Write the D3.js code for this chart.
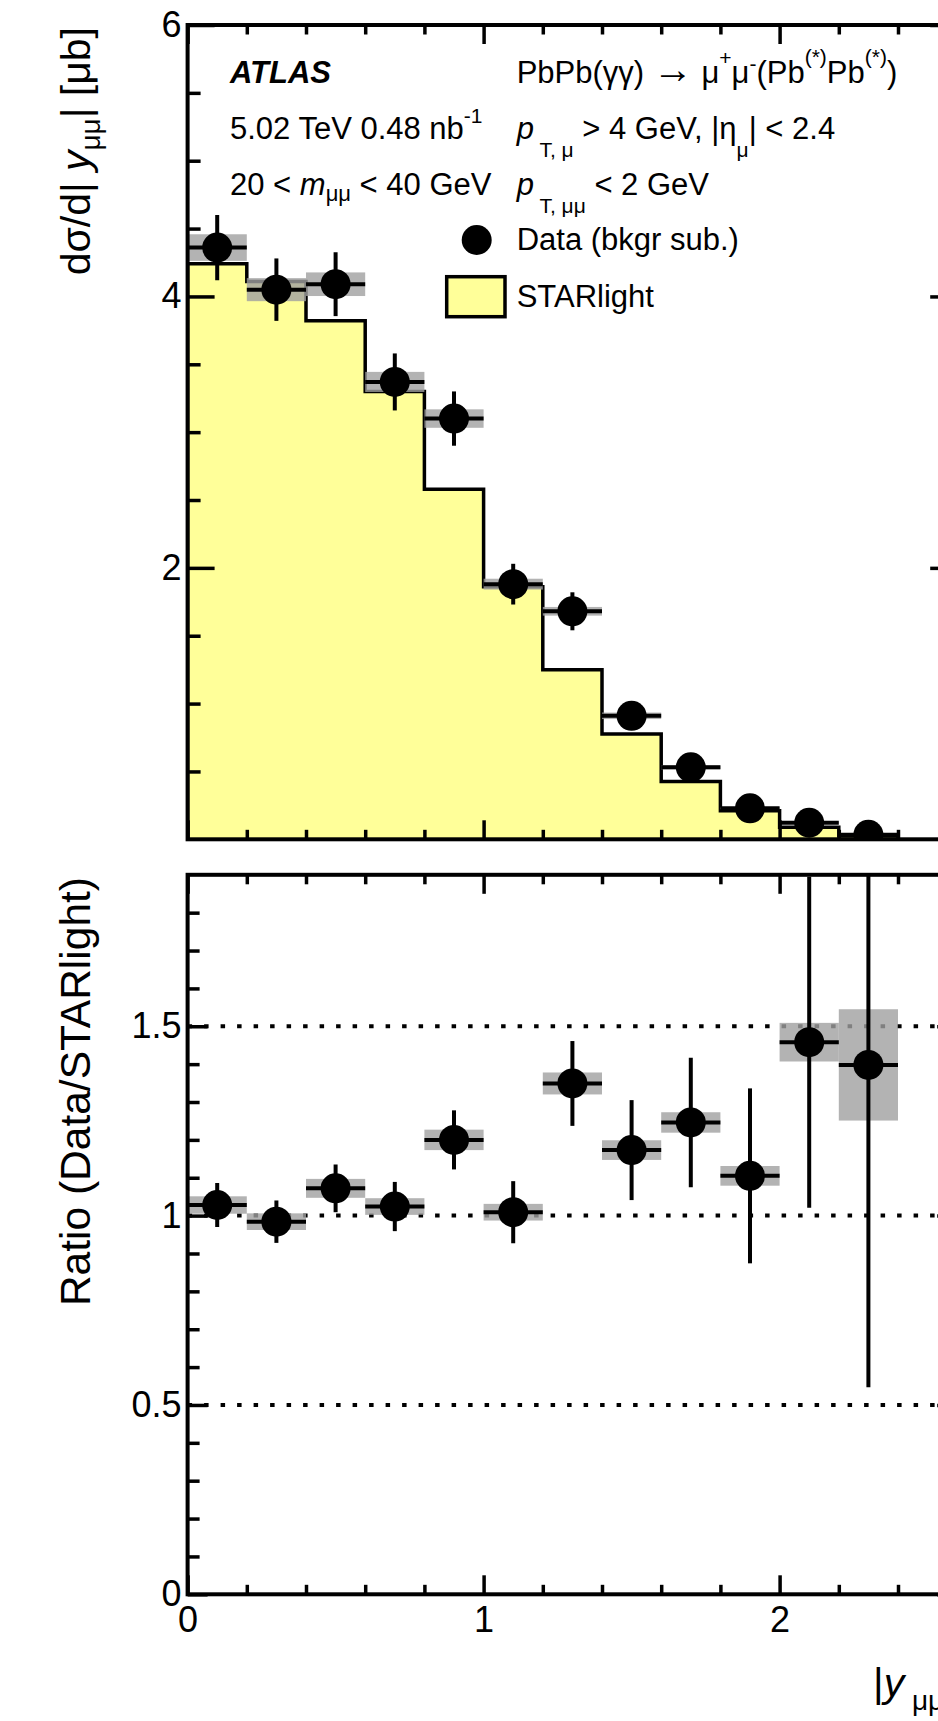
<!DOCTYPE html>
<html>
<head>
<meta charset="utf-8">
<script src="https://cdn.jsdelivr.net/npm/d3@7"></script>
<style>
  html, body { margin: 0; padding: 0; background: #fff; overflow: hidden; }
  svg { display: block; }
  text { font-family: "Liberation Sans", Arial, Helvetica, sans-serif; fill: #000; white-space: pre; }
</style>
</head>
<body>
<svg id="chart" width="938" height="1721"></svg>
<script>
// |y_mumu| bin edges
const binEdges = [0, 0.2, 0.4, 0.6, 0.8, 1.0, 1.2, 1.4, 1.6, 1.8, 2.0, 2.2, 2.4];

// Measured dσ/d|y_mumu| [μb], background subtracted
const xsData = [4.36, 4.05, 4.09, 3.37, 3.10, 1.88, 1.68, 0.91, 0.53, 0.228, 0.122, 0.033];
const xsStat = [0.24, 0.23, 0.235, 0.21, 0.20, 0.15, 0.14, 0.10, 0.085, 0.05, 0.04, 0.02];
const xsSyst = [0.098, 0.085, 0.087, 0.074, 0.068, 0.04, 0.032, 0.024, 0.015, 0.007, 0.005, 0.003];

// STARlight prediction
const xsStarlight = [4.24, 4.11, 3.82, 3.30, 2.58, 1.86, 1.25, 0.775, 0.425, 0.21, 0.088, 0.024];

// Data / STARlight
const ratio     = [1.028, 0.984, 1.072, 1.024, 1.20, 1.009, 1.349, 1.173, 1.246, 1.105, 1.458, 1.398];
const ratioStat = [0.058, 0.056, 0.063, 0.065, 0.078, 0.082, 0.112, 0.132, 0.171, 0.231, 0.437, 0.851];
const ratioSyst = [0.023, 0.022, 0.025, 0.022, 0.027, 0.022, 0.029, 0.026, 0.027, 0.026, 0.051, 0.147];

// Axis ticks
const xMajorTicks = [0, 1, 2];
const xMinorTicks = [0.2, 0.4, 0.6, 0.8, 1.2, 1.4, 1.6, 1.8, 2.2, 2.4];
const topMajorTicks = [2, 4, 6];
const topMinorTicks = [0.5, 1, 1.5, 2.5, 3, 3.5, 4.5, 5, 5.5];
const ratioMajorTicks = [0, 0.5, 1, 1.5];
const ratioMinorTicks = [0.1, 0.2, 0.3, 0.4, 0.6, 0.7, 0.8, 0.9, 1.1, 1.2, 1.3, 1.4, 1.6, 1.7, 1.8];
const ratioRefLines = [0.5, 1, 1.5];

const YELLOW = "#ffff99";
const SYST_FILL = "#a0a0a0";
const LABEL_SIZE = 36;
const TEXT_SIZE = 31;

const svg = d3.select("#chart");

const bins = xsData.map((d, i) => ({
  lo: binEdges[i], hi: binEdges[i + 1], mid: (binEdges[i] + binEdges[i + 1]) / 2,
  xs: d, xsStat: xsStat[i], xsSyst: xsSyst[i], sl: xsStarlight[i],
  r: ratio[i], rStat: ratioStat[i], rSyst: ratioSyst[i]
}));

const x = d3.scaleLinear().domain([0, 2.6]).range([187.6, 957.2]);
const yTop = d3.scaleLinear().domain([0, 6]).range([839.3, 25]);
const yRat = d3.scaleLinear().domain([0, 1.9]).range([1594.3, 874.8]);

// Rich text: parts are {t, it, b, sub, sup, fs, dx}
function rich(parent, px, py, parts, size, attrs = {}) {
  const t = parent.append("text").attr("x", px).attr("y", py).attr("font-size", size);
  Object.entries(attrs).forEach(([k, v]) => t.attr(k, v));
  let offset = 0;
  parts.forEach(p => {
    const ts = t.append("tspan").text(p.t);
    let target = 0;
    if (p.sub) target = p.sub;
    if (p.sup) target = -p.sup;
    const dy = target - offset;
    if (dy !== 0) ts.attr("dy", dy);
    offset = target;
    if (p.dx) ts.attr("dx", p.dx);
    ts.attr("font-size", p.fs || size);
    if (p.it) ts.attr("font-style", "italic");
    if (p.b) ts.attr("font-weight", "bold");
  });
  return t;
}

function styleAxis(g, labelSize) {
  g.select(".domain").remove();
  g.selectAll(".tick line").attr("stroke", "#000").attr("stroke-width", 3.5);
  g.selectAll(".tick text").attr("font-size", labelSize).attr("fill", "#000")
    .attr("font-family", '"Liberation Sans", Arial, Helvetica, sans-serif');
}

function drawAxes(yScale, yMajor, yMinor, yMajorLen, yMinorLen, showX) {
  const [top, bottom] = [yScale.range()[1], yScale.range()[0]];
  const [left, right] = x.range();
  // left y axis
  svg.append("g").attr("transform", `translate(${left},0)`)
    .call(d3.axisLeft(yScale).tickValues(yMajor).tickSize(-yMajorLen).tickPadding(6).tickFormat(d3.format("")))
    .call(g => styleAxis(g, LABEL_SIZE));
  svg.append("g").attr("transform", `translate(${left},0)`)
    .call(d3.axisLeft(yScale).tickValues(yMinor).tickSize(-yMinorLen).tickFormat(""))
    .call(g => styleAxis(g, LABEL_SIZE));
  // mirrored right y axis
  svg.append("g").attr("transform", `translate(${right},0)`)
    .call(d3.axisRight(yScale).tickValues(yMajor).tickSize(-yMajorLen).tickFormat(""))
    .call(g => styleAxis(g, LABEL_SIZE));
  svg.append("g").attr("transform", `translate(${right},0)`)
    .call(d3.axisRight(yScale).tickValues(yMinor).tickSize(-yMinorLen).tickFormat(""))
    .call(g => styleAxis(g, LABEL_SIZE));
  // bottom x axis
  svg.append("g").attr("transform", `translate(0,${bottom})`)
    .call(d3.axisBottom(x).tickValues(xMajorTicks).tickSize(-19).tickPadding(12)
      .tickFormat(showX ? d3.format("") : ""))
    .call(g => styleAxis(g, LABEL_SIZE));
  svg.append("g").attr("transform", `translate(0,${bottom})`)
    .call(d3.axisBottom(x).tickValues(xMinorTicks).tickSize(-9.5).tickFormat(""))
    .call(g => styleAxis(g, LABEL_SIZE));
  // top x axis
  svg.append("g").attr("transform", `translate(0,${top})`)
    .call(d3.axisTop(x).tickValues(xMajorTicks).tickSize(-19).tickFormat(""))
    .call(g => styleAxis(g, LABEL_SIZE));
  svg.append("g").attr("transform", `translate(0,${top})`)
    .call(d3.axisTop(x).tickValues(xMinorTicks).tickSize(-9.5).tickFormat(""))
    .call(g => styleAxis(g, LABEL_SIZE));
  // frame
  svg.append("rect").attr("x", left).attr("y", top)
    .attr("width", right - left).attr("height", bottom - top)
    .attr("fill", "none").attr("stroke", "#000").attr("stroke-width", 4);
}

function clipFor(id, yScale) {
  const [left, right] = x.range();
  svg.append("clipPath").attr("id", id).append("rect")
    .attr("x", left).attr("y", yScale.range()[1])
    .attr("width", right - left).attr("height", yScale.range()[0] - yScale.range()[1]);
  return svg.append("g").attr("clip-path", `url(#${id})`);
}

function drawPoints(g, yScale, val, stat, syst) {
  // systematic boxes
  g.append("g").selectAll("rect").data(bins).join("rect")
    .attr("x", d => x(d.lo)).attr("width", d => x(d.hi) - x(d.lo))
    .attr("y", d => yScale(d[val] + d[syst]))
    .attr("height", d => yScale(d[val] - d[syst]) - yScale(d[val] + d[syst]))
    .attr("fill", SYST_FILL).attr("fill-opacity", 0.8);
  // horizontal bars (bin width)
  g.append("g").selectAll("line").data(bins).join("line")
    .attr("x1", d => x(d.lo)).attr("x2", d => x(d.hi))
    .attr("y1", d => yScale(d[val])).attr("y2", d => yScale(d[val]))
    .attr("stroke", "#000").attr("stroke-width", 4);
  // statistical error bars
  g.append("g").selectAll("line").data(bins).join("line")
    .attr("x1", d => x(d.mid)).attr("x2", d => x(d.mid))
    .attr("y1", d => yScale(d[val] - d[stat])).attr("y2", d => yScale(d[val] + d[stat]))
    .attr("stroke", "#000").attr("stroke-width", 4);
  // markers
  g.append("g").selectAll("circle").data(bins).join("circle")
    .attr("cx", d => x(d.mid)).attr("cy", d => yScale(d[val])).attr("r", 15)
    .attr("fill", "#000");
}

// ---------- upper panel: cross section ----------
const gTop = clipFor("clip-top", yTop);
const stepPts = [[0, 0]].concat(bins.map(d => [d.lo, d.sl]),
  [[binEdges[binEdges.length - 1], xsStarlight[xsStarlight.length - 1]], [binEdges[binEdges.length - 1], 0]]);
gTop.append("path").datum(stepPts)
  .attr("d", d3.area().curve(d3.curveStepAfter).x(d => x(d[0])).y0(yTop(0)).y1(d => yTop(d[1])))
  .attr("fill", YELLOW);
gTop.append("path").datum(stepPts)
  .attr("d", d3.line().curve(d3.curveStepAfter).x(d => x(d[0])).y(d => yTop(d[1])))
  .attr("fill", "none").attr("stroke", "#000").attr("stroke-width", 3.5);
drawPoints(gTop, yTop, "xs", "xsStat", "xsSyst");
drawAxes(yTop, topMajorTicks, topMinorTicks, 27, 13, false);

// ---------- lower panel: ratio ----------
const gRat = clipFor("clip-rat", yRat);
gRat.append("g").selectAll("line").data(ratioRefLines).join("line")
  .attr("x1", x.range()[0]).attr("x2", x.range()[1])
  .attr("y1", d => yRat(d)).attr("y2", d => yRat(d))
  .attr("stroke", "#000").attr("stroke-width", 4).attr("stroke-dasharray", "4.5 12");
drawPoints(gRat, yRat, "r", "rStat", "rSyst");
drawAxes(yRat, ratioMajorTicks, ratioMinorTicks, 20, 12, true);

// ---------- axis titles ----------
rich(svg, 0, 0, [
  { t: "dσ/d| " }, { t: "y", it: true }, { t: "μμ", sub: 10, fs: 28 }, { t: "| [μb]" }
], 41, { transform: "translate(90,27) rotate(-90)", "text-anchor": "end" });

rich(svg, 0, 0, [{ t: "Ratio (Data/STARlight)" }], 42.5,
  { transform: "translate(90,877) rotate(-90)", "text-anchor": "end" });

rich(svg, 873, 1697, [
  { t: "|" }, { t: "y", it: true }, { t: " μμ", sub: 13, fs: 28 }, { t: "|" }
], 41);

// ---------- labels ----------
rich(svg, 230, 83, [{ t: "ATLAS", it: true, b: true }], TEXT_SIZE);
rich(svg, 230, 139, [{ t: "5.02 TeV 0.48 nb" }, { t: "-1", sup: 16, fs: 21 }], TEXT_SIZE);
rich(svg, 230, 195, [
  { t: "20 < " }, { t: "m", it: true }, { t: "μμ", sub: 6, fs: 22 }, { t: " < 40 GeV" }
], TEXT_SIZE);

rich(svg, 516.7, 83, [
  { t: "PbPb(γγ) " }, { t: "→", fs: 40 }, { t: " μ" }, { t: "+", sup: 18, fs: 21 }, { t: "μ" },
  { t: "-", sup: 12, fs: 21 },
  { t: "(Pb" }, { t: "(*)", sup: 19, fs: 21 }, { t: "Pb" }, { t: "(*)", sup: 19, fs: 21 }, { t: ")" }
], TEXT_SIZE);
rich(svg, 516.7, 139, [
  { t: "p", it: true }, { t: " T, μ", sub: 18, fs: 21 }, { t: " > 4 GeV, |η" },
  { t: "μ", sub: 18, fs: 21 }, { t: "| < 2.4" }
], TEXT_SIZE);
rich(svg, 516.7, 195, [
  { t: "p", it: true }, { t: " T, μμ", sub: 18, fs: 21 }, { t: " < 2 GeV" }
], TEXT_SIZE);

// ---------- legend ----------
svg.append("circle").attr("cx", 476.7).attr("cy", 240).attr("r", 15).attr("fill", "#000");
rich(svg, 516.7, 250, [{ t: "Data (bkgr sub.)" }], TEXT_SIZE);
svg.append("rect").attr("x", 446.7).attr("y", 276.7).attr("width", 58.3).attr("height", 40)
  .attr("fill", YELLOW).attr("stroke", "#000").attr("stroke-width", 3.5);
rich(svg, 516.7, 306.7, [{ t: "STARlight" }], TEXT_SIZE);
</script>
</body>
</html>
